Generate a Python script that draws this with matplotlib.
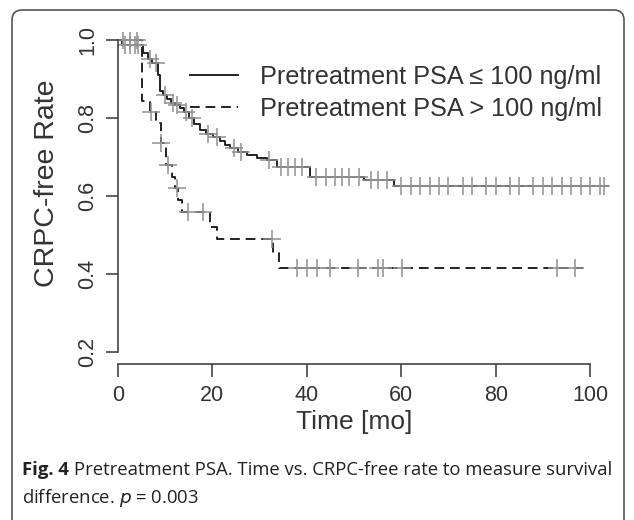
import matplotlib
matplotlib.use('Agg')
import matplotlib.pyplot as plt
from matplotlib.patches import FancyBboxPatch

# Kaplan-Meier steps (months, CRPC-free rate)
low_t = [0, 0.8, 5.3, 6.3, 7.2, 8.5, 8.9, 9.6, 10.4, 11.2, 12.0, 13.1, 14.0, 15.0, 16.2, 17.4,
         18.6, 20.1, 21.5, 22.6, 23.7, 25.5, 27.3, 29.5, 31.6, 33.7, 40.7, 52.0, 58.5, 104.0]
low_s = [1.0, 0.987, 0.965, 0.95, 0.94, 0.91, 0.87, 0.858, 0.848, 0.838, 0.832, 0.826, 0.815,
         0.80, 0.785, 0.77, 0.76, 0.751, 0.74, 0.73, 0.723, 0.712, 0.705, 0.698, 0.692, 0.674,
         0.649, 0.64, 0.625, 0.625]
low_cens_t = [1.5, 2.5, 3.5, 4.3, 6.8, 8.0, 10.0, 11.6, 12.6, 14.5, 15.6, 19.0, 21.0, 24.5,
              26.0, 32.0, 34.5, 36.0, 37.5, 39.0, 42.0, 44.0, 46.0, 47.5, 49.0, 51.0, 53.5,
              55.0, 57.0, 60.0, 62.0, 64.0, 66.0, 68.0, 70.0, 73.0, 75.0, 78.0, 80.0, 83.0,
              85.0, 88.0, 90.0, 92.0, 94.0, 96.0, 98.0, 100.0, 102.0, 103.0]

high_t = [0, 5.0, 6.8, 8.0, 9.1, 10.2, 11.4, 12.1, 12.7, 13.6, 19.5, 21.0, 32.8, 34.1, 98.5]
high_s = [1.0, 0.843, 0.815, 0.787, 0.735, 0.68, 0.65, 0.62, 0.59, 0.559, 0.52, 0.49, 0.454,
          0.415, 0.415]
high_cens_t = [1.0, 2.5, 4.0, 6.9, 9.2, 10.6, 12.5, 14.8, 18.0, 32.6, 37.9, 40.0, 42.2, 44.9,
               50.8, 55.1, 56.1, 60.2, 93.0, 96.8]

labels = ['Pretreatment PSA \u2264 100 ng/ml', 'Pretreatment PSA > 100 ng/ml']
x_ticks = [0, 20, 40, 60, 80, 100]
y_ticks = [0.2, 0.4, 0.6, 0.8, 1.0]


def surv_at(ts, ss, t):
    val = ss[0]
    for a, b in zip(ts, ss):
        if a <= t:
            val = b
    return val


plt.rcParams['font.family'] = ['Liberation Sans', 'DejaVu Sans']
fig = plt.figure(figsize=(6.34, 5.2), dpi=100)

ax = fig.add_axes([118 / 634, 1 - 364 / 520, (609 - 118) / 634, (364 - 32) / 520])
ax.set_xlim(0, 104)
ax.set_ylim(0.17, 1.02)

line_col = '#222222'
mark_col = '#909090'

ax.step(low_t, low_s, where='post', color=line_col, lw=1.4, label=labels[0])
ax.step(high_t, high_s, where='post', color=line_col, lw=1.4, dashes=(5, 3), label=labels[1])
ax.plot(low_cens_t, [surv_at(low_t, low_s, t) for t in low_cens_t], '+', color=mark_col,
        ms=13, mew=1.1)
ax.plot(high_cens_t, [surv_at(high_t, high_s, t) for t in high_cens_t], '+', color=mark_col,
        ms=13, mew=1.1)

for s in ['top', 'right']:
    ax.spines[s].set_visible(False)
ax.spines['left'].set_bounds(0.2, 1.0)
ax.spines['bottom'].set_bounds(0, 100)
for s in ['left', 'bottom']:
    ax.spines[s].set_color('#444444')
    ax.spines[s].set_linewidth(1.2)

ax.set_xticks(x_ticks)
ax.set_yticks(y_ticks)
ax.set_yticklabels(['%.1f' % v for v in y_ticks], rotation=90, va='center')
ax.tick_params(direction='out', length=9, width=1.2, color='#444444',
               labelsize=15.5, labelcolor='#333333')
ax.tick_params(axis='x', pad=6)
ax.tick_params(axis='y', pad=5)
ax.set_xlabel('Time [mo]', fontsize=19, color='#333333')
ax.set_ylabel('CRPC-free Rate', fontsize=20.5, color='#333333')
ax.xaxis.set_label_coords((354 - 118) / 491, -(410 - 364) / 332)
ax.yaxis.set_label_coords(-(118 - 60) / 491, (364 - 183) / 332)

leg = ax.legend(loc='upper left', bbox_to_anchor=(190 / 634, 1 - 65 / 520),
                bbox_transform=fig.transFigure, frameon=False, fontsize=18.2,
                handlelength=1.9, handletextpad=0.85, labelspacing=0.32,
                borderaxespad=0, borderpad=0)
for t in leg.get_texts():
    t.set_color('#333333')

# caption below the chart
cap_y = 1 - 470 / 520
bold = fig.text(22 / 634, cap_y, 'Fig. 4', fontsize=13.3, fontweight='bold',
                family='Open Sans', va='center', color='#222222')
fig.canvas.draw()
bb = bold.get_window_extent()
fig.text((bb.x1 + 5) / 634, cap_y,
         'Pretreatment PSA. Time vs. CRPC-free rate to measure survival',
         fontsize=13.3, family='Open Sans', va='center', color='#222222')
fig.text(22 / 634, 1 - 498 / 520, 'difference. $p$ = 0.003', fontsize=13.3,
         family='Open Sans', va='center', color='#222222')

# rounded frame round the figure
frame = FancyBboxPatch((12, -12), 612, 522, boxstyle='round,pad=0,rounding_size=10',
                       transform=None, fill=False, edgecolor='#555555', lw=1.2)
fig.patches.append(frame)

fig.savefig('out.png', dpi=100)
